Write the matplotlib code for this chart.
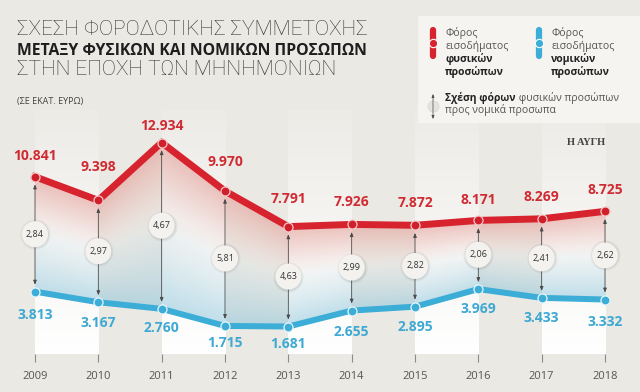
# Φορολογία φυσικών / νομικών προσώπων 2009-2018

import matplotlib.pyplot as plt
import numpy as np
from matplotlib.patches import Rectangle
from matplotlib.lines import Line2D

years = [2009, 2010, 2011, 2012, 2013, 2014, 2015, 2016, 2017, 2018]
natural = [10841, 9398, 12934, 9970, 7791, 7926, 7872, 8171, 8269, 8725]
legal = [3813, 3167, 2760, 1715, 1681, 2655, 2895, 3969, 3433, 3332]
ratios = ['2,84', '2,97', '4,67', '5,81', '4,63', '2,99', '2,82', '2,06', '2,41', '2,62']

# label offsets in pixels (above red / below blue)
red_dy = [21, 33, 17, 29, 28, 22, 22, 20, 22, 21]
blue_dy = [23, 21, 19, 17, 17, 21, 20, 20, 20, 22]

BG = '#ebe9e4'
RED = '#d7232e'
BLUE = '#3badd6'
RED_TXT = '#d02a32'
BLUE_TXT = '#3ea9d2'
PX = 72 / 100  # points per pixel

plt.rcParams['font.family'] = ['Open Sans', 'DejaVu Sans']

fig = plt.figure(figsize=(6.4, 3.92), dpi=100, facecolor=BG)

# main axes: bottom edge at y=354px, value 0 there
ppu = 0.01635  # pixels per unit
ax = fig.add_axes([0, 38 / 392, 1, 354 / 392])
ax.set_facecolor('none')
step = 570 / 9
ax.set_xlim(2009 - 35 / step, 2018 + 35 / step)
ax.set_ylim(0, 354 / ppu)
for s in ax.spines.values():
    s.set_visible(False)
ax.set_yticks([])
ax.set_xticks(years)
ax.set_xticklabels([str(y) for y in years])
ax.tick_params(axis='x', length=6, width=0.8, color='#8c8c8c', pad=6,
               labelsize=8, labelcolor='#555555')

# alternating white bands fading upward
band_top = (354 - 110) / ppu
fade = np.linspace(1, 0.1, 200).reshape(-1, 1)
band_img = np.zeros((200, 1, 4))
band_img[..., :3] = 1.0
band_img[..., 3] = fade
for i in range(0, len(years) - 1, 2):
    ax.imshow(band_img, extent=[years[i], years[i + 1], 0, band_top],
              origin='lower', aspect='auto', zorder=0, interpolation='bilinear')

# gradient between the two lines
nx, ny = 700, 500
gx = np.linspace(years[0], years[-1], nx)
gy = np.linspace(0, 14000, ny)
top = np.interp(gx, years, natural)
bot = np.interp(gx, years, legal)
X, Y = np.meshgrid(gx, gy)
T = (top[None, :] - Y) / (top - bot)[None, :]
img = np.zeros((ny, nx, 4))
inside = (T >= 0) & (T <= 1)
ra = np.clip(1 - T / 0.5, 0, 1) ** 1.2 * 0.45
ba = np.clip((T - 0.35) / 0.65, 0, 1) ** 1.4 * 0.5
rc = np.array([0.89, 0.50, 0.47])
bc = np.array([0.50, 0.75, 0.85])
a = ra + ba * (1 - ra)
col = (rc[None, None, :] * ra[..., None] + bc[None, None, :] * (ba * (1 - ra))[..., None]) / np.maximum(a, 1e-6)[..., None]
img[..., :3] = col
img[..., 3] = np.where(inside, a, 0)
ax.imshow(img, extent=[years[0], years[-1], 0, 14000], origin='lower',
          aspect='auto', zorder=1, interpolation='bilinear')

# arrows + ratio circles
for x, n, l, r in zip(years, natural, legal, ratios):
    ax.annotate('', xy=(x, l), xytext=(x, n),
                arrowprops=dict(arrowstyle='<|-|>,head_length=0.25,head_width=0.1',
                                color='#4a4a4a', lw=0.6, shrinkA=5.5, shrinkB=5),
                zorder=2)
    m = (n + l) / 2
    ax.scatter([x], [m], s=(30 * PX) ** 2, color='#000000', alpha=0.05, zorder=3, lw=0)
    ax.scatter([x], [m], s=(27 * PX) ** 2, color='#000000', alpha=0.06, zorder=3, lw=0)
    ax.text(x, m, r, ha='center', va='center', fontsize=6.5, color='#333333', zorder=4,
            bbox=dict(boxstyle='circle,pad=0.45', fc='#f3f2ef', ec='none'))

# lines
ax.plot(years, natural, color=RED, lw=5, solid_joinstyle='miter', zorder=5)
ax.plot(years, legal, color=BLUE, lw=4.3, solid_joinstyle='miter', zorder=5)
ax.plot(years, natural, 'o', ms=6.5, mfc='#cf1f2a', mec='#f6c9c9', mew=0.9, zorder=6)
ax.plot(years, legal, 'o', ms=6.5, mfc=BLUE, mec='#e6f5fa', mew=0.9, zorder=6)

for x, v, d in zip(years, natural, red_dy):
    ax.annotate(f'{v:,}'.replace(',', '.'), (x, v), xytext=(0, d * PX),
                textcoords='offset points', ha='center', va='center',
                fontsize=10, fontweight='bold', color=RED_TXT, zorder=7)
for x, v, d in zip(years, legal, blue_dy):
    ax.annotate(f'{v:,}'.replace(',', '.'), (x, v), xytext=(0, -d * PX),
                textcoords='offset points', ha='center', va='center',
                fontsize=10, fontweight='bold', color=BLUE_TXT, zorder=7)

# overlay in pixel coordinates for titles and legend
ov = fig.add_axes([0, 0, 1, 1], zorder=10)
ov.set_facecolor('none')
ov.set_xlim(0, 640)
ov.set_ylim(392, 0)
ov.axis('off')

ov.text(17, 35, 'ΣΧΕΣΗ ΦΟΡΟΔΟΤΙΚΗΣ ΣΥΜΜΕΤΟΧΗΣ', fontsize=15.1, family=['Roboto', 'DejaVu Sans'],
        fontweight='light', color='#333333', va='baseline')
ov.text(17, 55, 'ΜΕΤΑΞΥ ΦΥΣΙΚΩΝ ΚΑΙ ΝΟΜΙΚΩΝ ΠΡΟΣΩΠΩΝ', fontsize=11.3, fontweight='bold',
        color='#1e1e1e', va='baseline')
ov.text(17, 75, 'ΣΤΗΝ ΕΠΟΧΗ ΤΩΝ ΜΗΝΗΜΟΝΙΩΝ', fontsize=15.1, family=['Roboto', 'DejaVu Sans'],
        fontweight='light', color='#333333', va='baseline')
ov.text(17, 104, '(ΣΕ ΕΚΑΤ. ΕΥΡΩ)', fontsize=6.5, color='#444444', va='baseline')

ov.text(586, 142, 'Η ΑΥΓΗ', fontsize=7.5, fontweight='bold', family=['Liberation Serif', 'DejaVu Serif'],
        color='#444444', ha='center', va='center')

# legend box
ov.add_patch(Rectangle((418, 16), 222, 107, fc='#f5f4f1', ec='none'))
for ix, c, w in [(433, RED, 'φυσικών'), (539, BLUE, 'νομικών')]:
    ov.add_line(Line2D([ix, ix], [30, 56], lw=4.5, color=c, solid_capstyle='round'))
    ov.plot([ix], [43], 'o', ms=6, mfc=c, mec='white', mew=0.8)
    tx = ix + 12
    ov.text(tx, 33, 'Φόρος', fontsize=7.5, color='#555555', va='center')
    ov.text(tx, 46, 'εισοδήματος', fontsize=7.5, color='#555555', va='center')
    ov.text(tx, 59, w, fontsize=7.5, fontweight='bold', color='#222222', va='center')
    ov.text(tx, 72, 'προσώπων', fontsize=7.5, fontweight='bold', color='#222222', va='center')

ov.annotate('', xy=(433, 119), xytext=(433, 94),
            arrowprops=dict(arrowstyle='<|-|>,head_length=0.2,head_width=0.08',
                            color='#4a4a4a', lw=0.5, shrinkA=0, shrinkB=0))
ov.plot([433], [106], 'o', ms=8, mfc='#e4e3e0', mec='#d8d7d4', mew=0.5)
t1 = ov.text(445, 98, 'Σχέση φόρων', fontsize=7.5, fontweight='bold', color='#222222', va='center')
ov.annotate(' φυσικών προσώπων', xy=(1, 0.5), xycoords=t1, fontsize=7.5, color='#555555',
            va='center', ha='left')
ov.text(445, 110, 'προς νομικά προσωπα', fontsize=7.5, color='#555555', va='center')

fig.savefig('out.png', dpi=100, facecolor=BG)
